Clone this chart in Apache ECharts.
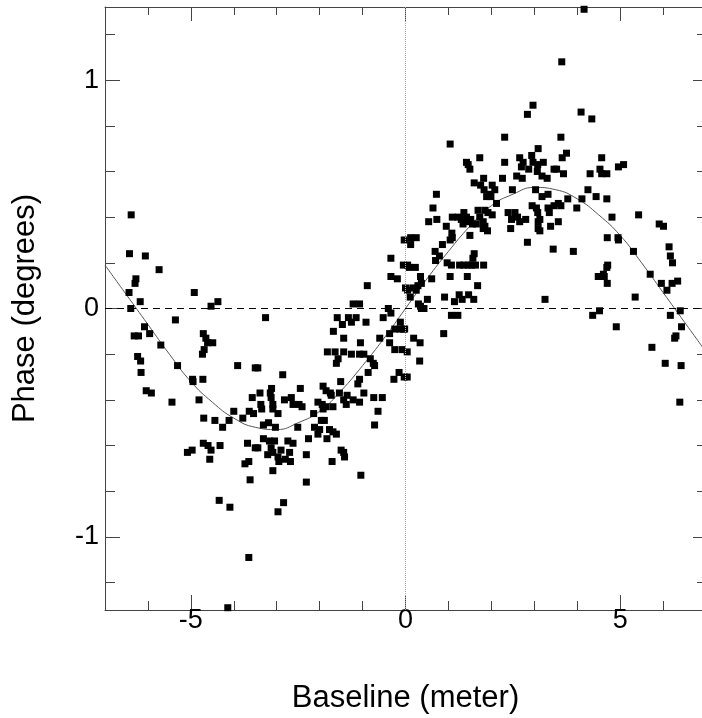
<!DOCTYPE html>
<html><head><meta charset="utf-8">
<script src="https://cdn.jsdelivr.net/npm/echarts@6/dist/echarts.min.js"></script>
<style>html,body{margin:0;padding:0;background:#fff}#c{width:702px;height:718px}</style>
</head><body><div id="c"></div>
<script>
const xMajorTicks = [-5, 0, 5];
const xMinorTicks = [-6, -4, -3, -2, -1, 1, 2, 3, 4, 6];
const yMajorTicks = [-1, 0, 1];
const yMinorTicks = [-1.2, -0.8, -0.6, -0.4, -0.2, 0.2, 0.4, 0.6, 0.8, 1.2];
const xTitle = 'Baseline (meter)';
const yTitle = 'Phase (degrees)';

// fitted curve
const curveX = [-7,-6.5,-6,-5.5,-5,-4.5,-4,-3.5,-3,-2.5,-2,-1.5,-1,-0.5,0,0.5,1,1.5,2,2.5,3,3.5,4,4.5,5,5.5,6,6.5,7];
const curveY = [0.19,0.06,-0.07,-0.20,-0.32,-0.41,-0.48,-0.52,-0.53,-0.50,-0.45,-0.36,-0.25,-0.13,0,0.13,0.25,0.36,0.45,0.50,0.53,0.52,0.48,0.41,0.32,0.20,0.07,-0.06,-0.19];

// measured points [baseline, phase]
const samples = [
[-6.39,0.41],[-6.43,0.24],[-6.06,0.23],[-5.74,0.17],[-6.28,0.13],[-6.30,0.11],[-6.44,0.07],[-4.92,0.07],[-6.18,0.03],[-6.40,0.00],[-4.37,0.03],[-4.53,0.01],[-5.36,-0.05],[-6.08,-0.08],[-5.96,-0.11],[-6.32,-0.12],[-6.22,-0.12],[-4.71,-0.11],[-4.65,-0.13],
[-5.70,-0.16],[-4.61,-0.15],[-4.49,-0.15],[-4.73,-0.20],[-4.69,-0.18],[-6.24,-0.21],[-6.17,-0.23],[-6.16,-0.28],[-5.31,-0.25],[-3.91,-0.25],[-3.50,-0.26],[-4.96,-0.31],[-4.95,-0.32],[-4.72,-0.31],[-6.04,-0.36],[-5.92,-0.37],[-5.44,-0.41],[-4.81,-0.40],[-3.57,-0.39],[-4.00,-0.45],[-3.64,-0.45],[-3.54,-0.46],[-4.70,-0.48],[-4.44,-0.49],[-4.26,-0.52],[-4.11,-0.49],[-3.79,-0.48],[-4.71,-0.59],[-4.60,-0.60],[-4.53,-0.62],[-4.32,-0.60],[-5.08,-0.63],[-4.97,-0.62],[-4.56,-0.66],[-3.68,-0.59],[-3.50,-0.61],[-3.74,-0.68],[-3.65,-0.67],[-3.62,-0.75],[-4.34,-0.84],[-4.09,-0.87],[-3.65,-1.09],[-4.14,-1.31],
[-0.03,0.30],[-0.34,0.22],[-0.05,0.19],[-0.34,0.14],[-0.19,0.13],[0.00,0.09],[-0.89,0.10],[-1.22,0.02],[-1.07,0.02],[-0.40,0.00],[-0.34,-0.02],[-3.26,-0.04],[-1.59,-0.04],[-1.33,-0.04],[-1.15,-0.04],[-1.47,-0.07],[-1.26,-0.06],[-0.92,-0.06],[-0.52,-0.04],[-1.68,-0.10],[-0.12,-0.06],[-0.25,-0.09],[-0.13,-0.09],[-0.05,-0.09],[-0.37,-0.11],[-1.44,-0.13],[-0.60,-0.13],
[-1.05,-0.15],[-0.37,-0.15],[-1.82,-0.19],[-1.64,-0.19],[-1.44,-0.19],[-1.26,-0.20],[-1.61,-0.24],[-1.57,-0.22],[-1.07,-0.20],[-0.97,-0.20],[-0.75,-0.24],[-0.72,-0.25],[-0.82,-0.22],[-0.25,-0.18],[-0.08,-0.18],[-3.44,-0.26],[-2.86,-0.29],[-0.87,-0.28],[-1.07,-0.31],[-1.11,-0.33],[-0.15,-0.28],[-0.27,-0.31],[-0.03,-0.30],[-1.51,-0.32],[-1.92,-0.34],[-1.85,-0.36],[-1.75,-0.37],[-1.73,-0.38],[-3.39,-0.37],[-3.12,-0.35],[-3.15,-0.37],[-3.13,-0.39],[-2.45,-0.35],[-2.66,-0.39],[-2.82,-0.40],[-2.62,-0.42],[-2.48,-0.42],[-2.41,-0.43],[-1.54,-0.37],[-1.36,-0.38],[-1.44,-0.40],[-1.22,-0.40],[-1.07,-0.41],[-1.38,-0.42],[-0.97,-0.37],[-0.74,-0.39],[-0.54,-0.39],[-0.64,-0.45],[-2.04,-0.41],[-1.94,-0.42],[-1.85,-0.43],[-1.92,-0.44],[-1.69,-0.43],[-3.37,-0.42],[-3.35,-0.44],[-3.09,-0.42],[-3.09,-0.44],[-2.97,-0.46],[-2.14,-0.46],[-3.31,-0.51],[-3.19,-0.50],[-3.03,-0.52],[-2.51,-0.52],[-2.12,-0.52],[-1.96,-0.49],[-1.89,-0.49],[-2.00,-0.53],[-2.04,-0.55],[-1.77,-0.53],[-1.69,-0.54],[-1.61,-0.55],[-1.83,-0.57],[-2.26,-0.57],[-3.31,-0.57],[-3.17,-0.58],[-3.05,-0.58],[-3.13,-0.61],[-2.74,-0.58],[-2.62,-0.59],[-3.44,-0.61],[-3.09,-0.63],[-2.90,-0.62],[-2.70,-0.63],[-3.21,-0.64],[-2.97,-0.65],[-2.80,-0.66],[-2.68,-0.67],[-2.95,-0.67],[-2.31,-0.64],[-1.50,-0.62],[-1.44,-0.63],[-1.42,-0.65],[-1.71,-0.67],[-3.09,-0.71],[-2.31,-0.76],[-1.04,-0.73],[-0.72,-0.51],[-2.84,-0.85],[-2.97,-0.89],
[2.97,0.89],[2.84,0.85],[2.31,0.75],[1.04,0.72],[3.09,0.70],[1.73,0.66],[1.42,0.64],[1.46,0.63],[1.50,0.61],[2.31,0.64],[2.66,0.66],[2.94,0.67],[2.74,0.64],[2.70,0.62],[2.87,0.61],[2.97,0.64],[3.08,0.63],[3.21,0.64],[3.07,0.60],[3.18,0.58],[3.30,0.57],[3.46,0.61],[2.59,0.58],[2.72,0.57],[2.26,0.57],[1.82,0.57],[1.60,0.55],[1.75,0.54],[2.02,0.54],[1.83,0.52],[1.96,0.50],[2.08,0.52],[1.89,0.49],[1.99,0.49],[2.49,0.52],[3.03,0.52],[3.18,0.49],[3.32,0.50],[0.72,0.50],[2.12,0.46],[0.64,0.44],[2.95,0.45],[3.05,0.44],[3.08,0.42],[3.13,0.39],[3.09,0.38],[3.32,0.44],[3.35,0.42],[3.46,0.45],[1.69,0.43],[1.85,0.43],[1.92,0.42],[2.02,0.41],[1.73,0.40],[1.81,0.38],[1.65,0.37],[1.85,0.36],[1.09,0.40],[1.22,0.40],[1.36,0.42],[1.30,0.39],[1.42,0.40],[1.46,0.38],[1.34,0.37],[1.56,0.37],[1.52,0.39],[2.39,0.42],[2.55,0.42],[2.47,0.39],[2.61,0.40],[2.66,0.38],[2.80,0.39],[0.54,0.38],[0.73,0.39],[0.95,0.36],[1.81,0.35],[1.91,0.34],[2.45,0.35],[3.09,0.35],[3.13,0.34],[3.38,0.36],[1.08,0.33],[1.04,0.30],[1.09,0.31],[1.50,0.32],[0.86,0.28],[2.84,0.29],[3.44,0.26],[0.12,0.31],[0.25,0.31],[0.12,0.28],[0.69,0.25],[0.79,0.23],[1.60,0.24],[1.57,0.22],
[0.70,0.21],[1.54,0.19],[1.63,0.19],[1.82,0.19],[1.26,0.19],[1.36,0.19],[1.46,0.19],[0.97,0.20],[1.07,0.19],[0.05,0.19],[0.09,0.18],[0.23,0.18],[0.35,0.14],[0.61,0.13],[1.04,0.14],[1.44,0.14],[0.37,0.11],[0.29,0.10],[0.17,0.09],[0.05,0.08],[0.25,0.08],[1.68,0.10],[0.11,0.05],[0.51,0.04],[0.91,0.05],[1.25,0.06],[1.32,0.04],[1.14,0.03],[1.47,0.06],[1.59,0.04],[0.30,0.02],[0.37,0.00],[0.43,0.00],[0.35,0.01],[3.25,0.04],[1.07,-0.03],[1.22,-0.03],[-0.02,-0.09],[0.89,-0.11],[0.19,-0.13],[0.34,-0.15],[0.04,-0.19],[0.33,-0.23],[0.04,-0.30],
[4.16,1.31],[3.64,1.08],[4.09,0.86],[4.34,0.83],[3.62,0.75],[3.65,0.66],[3.75,0.68],[4.57,0.66],[3.52,0.61],[3.68,0.59],[4.30,0.59],[4.53,0.61],[4.57,0.59],[4.69,0.59],[4.96,0.62],[5.08,0.63],[4.25,0.52],[3.78,0.48],[4.11,0.48],[4.44,0.49],[4.69,0.48],
[3.56,0.46],[3.62,0.45],[3.99,0.44],[3.56,0.38],[4.81,0.40],[5.43,0.41],[5.91,0.37],[6.01,0.36],[4.70,0.31],[4.95,0.31],[4.96,0.30],[3.91,0.25],[5.31,0.25],[6.14,0.27],[6.17,0.23],[6.22,0.20],[4.71,0.19],[4.69,0.18],[4.49,0.14],[4.63,0.14],[4.61,0.15],[4.70,0.11],[5.70,0.15],[5.96,0.11],[6.09,0.08],[6.21,0.11],[6.34,0.12],[5.35,0.05],[4.52,-0.01],[4.36,-0.03],[6.40,-0.01],[6.17,-0.03],[4.91,-0.08],[6.43,-0.08],[6.30,-0.12],[6.27,-0.13],[5.74,-0.17],[6.05,-0.24],[6.42,-0.25],[6.39,-0.41]
];

const FONT = '"Liberation Sans", Arial, Helvetica, sans-serif';
const AX = '#444';
const X_MIN = -7, X_MAX = 7, Y_MIN = -1.32, Y_MAX = 1.32;

function xAxisDef(position, ticks, len, withLine, withLabels, name) {
  return {
    type: 'value', position: position, min: X_MIN, max: X_MAX,
    axisLine: { show: withLine, onZero: false, lineStyle: { color: AX, width: 1 } },
    axisTick: { show: true, inside: true, length: len, customValues: ticks, lineStyle: { color: AX, width: 1 } },
    axisLabel: withLabels ? { show: true, customValues: ticks, fontSize: 27, color: '#000', fontFamily: FONT, margin: -3 } : { show: false },
    splitLine: { show: false },
    name: name || '', nameLocation: 'middle', nameGap: 73,
    nameTextStyle: { fontSize: 31, color: '#000', fontFamily: FONT }
  };
}
function yAxisDef(position, ticks, len, withLine, withLabels, name) {
  return {
    type: 'value', position: position, min: Y_MIN, max: Y_MAX,
    axisLine: { show: withLine, onZero: false, lineStyle: { color: AX, width: 1 } },
    axisTick: { show: true, inside: true, length: len, customValues: ticks, lineStyle: { color: AX, width: 1 } },
    axisLabel: withLabels ? { show: true, customValues: ticks, fontSize: 27, color: '#000', fontFamily: FONT, margin: 6 } : { show: false },
    splitLine: { show: false },
    name: name || '', nameLocation: 'middle', nameGap: 64, nameRotate: 90,
    nameTextStyle: { fontSize: 31, color: '#000', fontFamily: FONT }
  };
}

const chart = echarts.init(document.getElementById('c'), null, { renderer: 'canvas' });
chart.setOption({
  animation: false,
  backgroundColor: '#fff',
  grid: { left: 105, top: 7, width: 601, height: 603, containLabel: false, outerBoundsMode: 'none' },
  xAxis: [
    xAxisDef('bottom', xMajorTicks, 15, true, true, xTitle),
    xAxisDef('bottom', xMinorTicks, 9, false, false),
    xAxisDef('top', xMajorTicks, 14, true, false),
    xAxisDef('top', xMinorTicks, 8, false, false)
  ],
  yAxis: [
    yAxisDef('left', yMajorTicks, 15, true, true, yTitle),
    yAxisDef('left', yMinorTicks, 10, false, false),
    yAxisDef('right', yMajorTicks, 13, true, false),
    yAxisDef('right', yMinorTicks, 9, false, false)
  ],
  series: [
    {
      type: 'line', xAxisIndex: 0, yAxisIndex: 0,
      data: curveX.map((x, i) => [x, curveY[i]]),
      smooth: true, showSymbol: false, symbol: 'none', silent: true,
      lineStyle: { color: '#555', width: 1 },
      markLine: {
        silent: true, symbol: ['none', 'none'], label: { show: false },
        data: [
          { xAxis: 0, lineStyle: { color: '#aaa', type: 'dotted', width: 1 } },
          { yAxis: 0, lineStyle: { color: '#000', type: [7, 5], width: 1 } }
        ]
      },
      z: 2
    },
    {
      type: 'scatter', xAxisIndex: 0, yAxisIndex: 0,
      data: samples, symbol: 'rect', symbolSize: 7,
      itemStyle: { color: '#000', opacity: 1 }, z: 3
    }
  ]
});
</script></body></html>
